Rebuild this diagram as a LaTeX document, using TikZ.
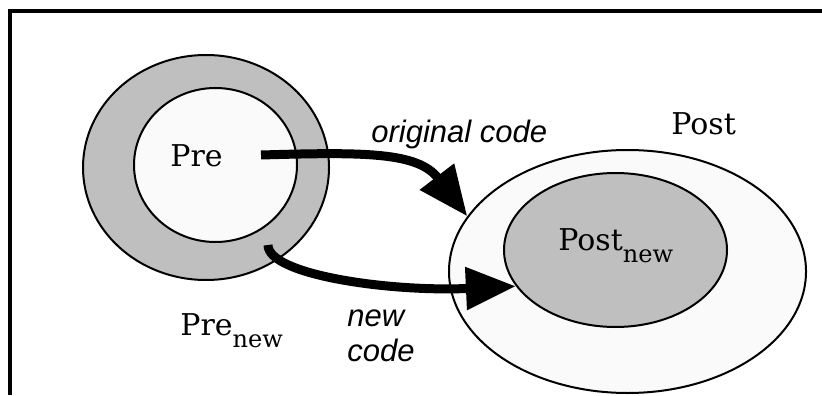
\documentclass[tikz,border=0pt]{standalone}
\usepackage{fontspec}
\setmainfont{DejaVu Serif}
\newfontfamily\codefont{Liberation Sans}
\usetikzlibrary{shapes.geometric, arrows.meta}
\definecolor{setgray}{RGB}{191,191,191}
\definecolor{setwhite}{RGB}{250,250,250}
\tikzset{
    setshape/.style={ellipse, draw=black, line width=1pt, inner sep=0pt},
    setname/.style={font=\fontsize{15}{18}\selectfont, inner sep=0pt, anchor=base west},
    codelabel/.style={font=\codefont\itshape\fontsize{15.5}{17.5}\selectfont, inner sep=0pt, align=left, anchor=base west},
    arrow/.style={-{Triangle[length=25pt, width=20.5pt]}, line width=4.5pt, black}
}
\newcommand{\setsub}[1]{\raisebox{-6pt}{\fontsize{12}{14}\selectfont #1}}

\begin{document}
\begin{tikzpicture}[x=0.5pt, y=-0.5pt]
        \useasboundingbox (0,0) rectangle (822,395);
        \draw [line width=1.6pt] (822,11) -- (10,11) -- (10,395);

        % Pre sets
        \node [setshape, fill=setgray, minimum width=123pt, minimum height=112.5pt] (prenew) at (206,167.5) {};
        \node [setshape, fill=setwhite, minimum width=81.5pt, minimum height=77pt] (pre) at (215.5,165) {};

        % Post sets
        \node [setshape, fill=setwhite, minimum width=178.5pt, minimum height=121.5pt] (post) at (627.5,271.5) {};
        \node [setshape, fill=setgray, minimum width=111.5pt, minimum height=77pt] (postnew) at (615.5,250) {};

        \coordinate (orgstart) at (261,155);
        \coordinate (newstart) at (268,245);
        \draw [arrow] (orgstart) .. controls (365,152) and (418,152) .. (post.161);
        \draw [arrow] (newstart) .. controls (268,275) and (390,292) .. (postnew.200.6);

        % labels
        \node [setname] (prelabel) at (170,167) {Pre};
        \node [setname] (prenewlabel) at (180,335) {Pre\setsub{new}};
        \node [setname] (postlabel) at (671,135) {Post};
        \node [setname] (postnewlabel) at (558,250) {Post\setsub{new}};
        \node [codelabel] (origlabel) at (371,142) {original code};
        \node [codelabel] (newlabel) at (347,361) {new\\code};
    \end{tikzpicture}
\end{document}
